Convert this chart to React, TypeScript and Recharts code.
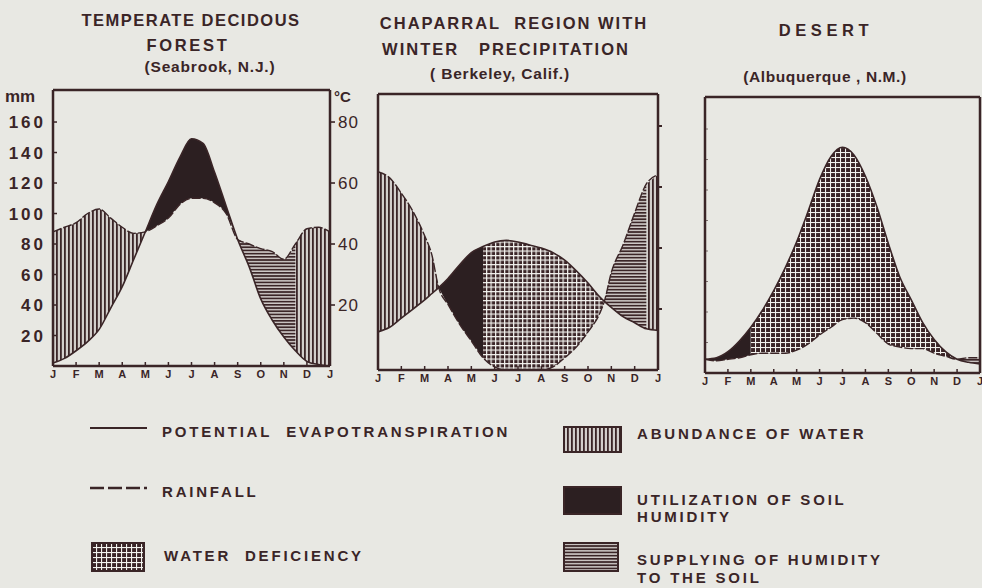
import React from 'react';
import { ComposedChart, Area, Line, XAxis, YAxis, ReferenceLine } from 'recharts';

const INK = '#3a2527';
const PAPER = '#e8e8e3';
const FONT = '"Liberation Sans", Arial, Helvetica, sans-serif';

const monthLabels = ['J', 'F', 'M', 'A', 'M', 'J', 'J', 'A', 'S', 'O', 'N', 'D', 'J'];
const monthTicks = [0, 1, 2, 3, 4, 5, 6, 7, 8, 9, 10, 11, 12];
const mmTicks = [20, 40, 60, 80, 100, 120, 140, 160];
const degTicks = [20, 40, 60, 80];

// Seabrook, N.J. (mm, x = months from January)
const forestX = [0, 0.5, 1, 1.5, 2, 2.5, 3, 3.5, 4, 4.5, 5, 5.5, 6, 6.5, 7, 7.5, 8, 8.5, 9, 9.5, 10, 10.5, 11, 11.5, 12];
const forestPet = [2, 5, 10, 16, 24, 38, 52, 70, 88, 106, 121, 137, 149, 146, 127, 105, 83, 65, 44, 30, 19, 10, 3, 1, 0];
const forestRain = [88, 91, 94, 100, 103, 97, 91, 87, 88, 92, 97, 106, 110, 110, 107, 100, 83, 80, 77, 75, 70, 80, 90, 91, 88];
const forestZones = [
  { kind: 'abundance', from: 0, to: 4 },
  { kind: 'utilization', from: 4, to: 8 },
  { kind: 'supply', from: 8, to: 10.5 },
  { kind: 'abundance', from: 10.5, to: 12 },
];

// Berkeley, Calif.
const chapX = [0, 0.5, 1, 1.5, 2, 2.3, 2.6, 3, 3.5, 4, 4.5, 5, 5.5, 6, 6.5, 7, 7.5, 8, 8.5, 9, 9.5, 9.7, 10, 10.5, 11, 11.5, 12];
const chapPet = [25, 28, 34, 40, 46, 50, 54, 60, 69, 77, 81, 84, 85, 84, 82, 80, 77, 72, 65, 57, 48, 45, 41, 35, 31, 27, 26];
const chapRain = [130, 126, 116, 104, 88, 76, 54, 43, 30, 19, 8, 2, 0, 0, 0, 0, 2, 8, 15, 25, 37, 45, 64, 82, 103, 122, 128];
const chapZones = [
  { kind: 'abundance', from: 0, to: 2.6 },
  { kind: 'utilization', from: 2.6, to: 4.5 },
  { kind: 'deficiency', from: 4.5, to: 9.7 },
  { kind: 'supply', from: 9.7, to: 11.5 },
  { kind: 'abundance', from: 11.5, to: 12 },
];

// Albuquerque, N.M.
const desertX = [0, 0.5, 1, 1.5, 2, 2.5, 3, 3.5, 4, 4.5, 5, 5.5, 6, 6.5, 7, 7.5, 8, 8.5, 9, 9.5, 10, 10.5, 11, 11.5, 12];
const desertPet = [9, 10, 14, 21, 30, 41, 54, 69, 86, 106, 127, 142, 148, 143, 129, 109, 85, 63, 48, 33, 22, 14, 9, 7, 6];
const desertRain = [9, 8, 9, 10, 12, 13, 13, 13, 15, 19, 25, 30, 35, 36, 33, 26, 19, 17, 16, 16, 13, 11, 9, 10, 10];
const desertZones = [
  { kind: 'utilization', from: 0, to: 2 },
  { kind: 'deficiency', from: 2, to: 11 },
  { kind: 'supply', from: 11, to: 12 },
];

const zoneKinds = ['abundance', 'utilization', 'supply', 'deficiency'];

function buildRows(xs: number[], pet: number[], rain: number[], zones: { kind: string; from: number; to: number }[]) {
  return xs.map((x, i) => {
    const row: any = { x, pet: pet[i], rain: rain[i] };
    zones.forEach((z) => {
      if (x >= z.from && x <= z.to) row[z.kind] = [Math.min(pet[i], rain[i]), Math.max(pet[i], rain[i])];
    });
    return row;
  });
}

function Patterns({ id, grid, line }: { id: string; grid: number; line: number }) {
  return (
    <defs>
      <pattern id={`${id}-abundance`} width={4} height={4} patternUnits='userSpaceOnUse'>
        <rect width={4} height={4} fill='#d2cecb' />
        <rect width={1.8} height={4} fill={INK} />
      </pattern>
      <pattern id={`${id}-supply`} width={4} height={3.2} patternUnits='userSpaceOnUse'>
        <rect width={4} height={3.2} fill='#cfcac7' />
        <rect width={4} height={1.7} fill={INK} />
      </pattern>
      <pattern id={`${id}-deficiency`} width={grid} height={grid} patternUnits='userSpaceOnUse'>
        <rect width={grid} height={grid} fill={INK} />
        <rect width={grid} height={line} fill='#f3f3ef' />
        <rect width={line} height={grid} fill='#f3f3ef' />
      </pattern>
    </defs>
  );
}

function MonthTick({ x, y, payload }: any) {
  return (
    <g>
      <line x1={x} x2={x} y1={y} y2={y - 4} stroke={INK} strokeWidth={1.5} />
      <text x={x} y={y + 12} textAnchor='middle' fontSize={11} fontWeight={700} fill={INK} fontFamily={FONT}>
        {monthLabels[payload.value]}
      </text>
    </g>
  );
}

function MmTick({ x, y, payload }: any) {
  return (
    <g>
      <line x1={x} x2={x + 4} y1={y} y2={y} stroke={INK} strokeWidth={1.5} />
      <text x={x - 7} y={y + 6} textAnchor='end' fontSize={17} fontWeight={700} letterSpacing={3} fill={INK} fontFamily={FONT}>
        {payload.value}
      </text>
    </g>
  );
}

function InnerTick({ x, y }: any) {
  return <line x1={x} x2={x + 3} y1={y} y2={y} stroke={INK} strokeWidth={1} opacity={0.6} />;
}

function DegTick({ x, y, payload }: any) {
  return (
    <g>
      <line x1={x} x2={x + 5} y1={y} y2={y} stroke={INK} strokeWidth={1.6} />
      <text x={x + 8} y={y + 6} fontSize={17} letterSpacing={1} fill={INK} fontFamily={FONT}>
        {payload.value}
      </text>
    </g>
  );
}

function OuterTick({ x, y }: any) {
  return <line x1={x} x2={x + 4} y1={y} y2={y} stroke={INK} strokeWidth={2} />;
}

function ClimatePanel(props: any) {
  const { id, rows, left, top, width, leftWidth, rightWidth, leftTick, rightTick, grid, line } = props;
  return (
    <div style={{ position: 'absolute', left, top }}>
      <ComposedChart width={width} height={305} data={rows} margin={{ top: 10, right: 0, bottom: 0, left: 0 }}>
        <Patterns id={id} grid={grid} line={line} />
        <XAxis
          dataKey='x'
          type='number'
          domain={[0, 12]}
          ticks={monthTicks}
          interval={0}
          tickSize={0}
          tickMargin={0}
          tickLine={false}
          tick={MonthTick}
          height={19}
          axisLine={{ stroke: INK, strokeWidth: 2.5 }}
        />
        <YAxis
          yAxisId='mm'
          type='number'
          domain={[0, 181]}
          ticks={mmTicks}
          width={leftWidth}
          tickSize={0}
          tickMargin={0}
          tickLine={false}
          tick={leftTick}
          axisLine={{ stroke: INK, strokeWidth: 2.5 }}
        />
        <YAxis
          yAxisId='c'
          orientation='right'
          type='number'
          domain={[0, 90.5]}
          allowDataOverflow
          ticks={degTicks}
          width={rightWidth}
          tickSize={0}
          tickMargin={0}
          tickLine={false}
          tick={rightTick}
          axisLine={{ stroke: INK, strokeWidth: 2.5 }}
        />
        <ReferenceLine yAxisId='mm' y={181} stroke={INK} strokeWidth={2.5} />
        {zoneKinds.map((k) => (
          <Area
            key={k}
            yAxisId='mm'
            dataKey={k}
            type='monotone'
            fill={k === 'utilization' ? '#2c1f21' : `url(#${id}-${k})`}
            fillOpacity={1}
            stroke='none'
            connectNulls={false}
            dot={false}
            activeDot={false}
            isAnimationActive={false}
          />
        ))}
        <Line yAxisId='mm' dataKey='pet' type='monotone' stroke={INK} strokeWidth={1.6} dot={false} activeDot={false} isAnimationActive={false} />
        <Line yAxisId='mm' dataKey='rain' type='monotone' stroke={INK} strokeWidth={1.4} strokeDasharray='9 2' dot={false} activeDot={false} isAnimationActive={false} />
        {/* keeps the °C axis bound to a series so its ticks are drawn */}
        <Line yAxisId='c' dataKey='pet' stroke='transparent' strokeWidth={0} dot={false} activeDot={false} isAnimationActive={false} />
      </ComposedChart>
    </div>
  );
}

const textStyle: any = { position: 'absolute', color: INK, fontFamily: FONT, fontWeight: 700, whiteSpace: 'nowrap', lineHeight: 1 };

function Centered({ cx, cy, size, spacing, children }: any) {
  return (
    <div style={{ ...textStyle, left: cx - 200, width: 400, top: cy - size * 0.55, fontSize: size, letterSpacing: spacing, textAlign: 'center' }}>
      {children}
    </div>
  );
}

function LegendText({ x, cy, children }: any) {
  return <div style={{ ...textStyle, left: x, top: cy - 8, fontSize: 15, letterSpacing: 2.8 }}>{children}</div>;
}

function Swatch({ x, y, w, h, kind }: any) {
  return (
    <svg style={{ position: 'absolute', left: x, top: y }} width={w} height={h}>
      <Patterns id={`lg-${kind}`} grid={5} line={1.1} />
      <rect
        x={1}
        y={1}
        width={w - 2}
        height={h - 2}
        fill={kind === 'utilization' ? '#2c1f21' : `url(#lg-${kind}-${kind})`}
        stroke={INK}
        strokeWidth={2}
      />
    </svg>
  );
}

export default function App() {
  const forestRows = buildRows(forestX, forestPet, forestRain, forestZones);
  const chapRows = buildRows(chapX, chapPet, chapRain, chapZones);
  const desertRows = buildRows(desertX, desertPet, desertRain, desertZones);
  return (
    <div style={{ position: 'absolute', left: 0, top: 0, width: 982, height: 588, background: PAPER, overflow: 'hidden', fontFamily: FONT }}>
      <Centered cx={191} cy={21} size={16.5} spacing={1.5}>TEMPERATE DECIDOUS</Centered>
      <Centered cx={188} cy={46} size={16.5} spacing={2.7}>FOREST</Centered>
      <Centered cx={210} cy={68} size={15.5} spacing={0.8}>(Seabrook, N.J.)</Centered>

      <Centered cx={514} cy={24} size={16.5} spacing={2}>CHAPARRAL&nbsp;&nbsp;REGION WITH</Centered>
      <Centered cx={506} cy={50} size={16.5} spacing={2}>WINTER&nbsp;&nbsp;&nbsp;PRECIPITATION</Centered>
      <Centered cx={500} cy={75} size={15.5} spacing={0.8}>( Berkeley, Calif.)</Centered>

      <Centered cx={826} cy={31} size={16.5} spacing={4.6}>DESERT</Centered>
      <Centered cx={825} cy={78} size={15.5} spacing={0.6}>(Albuquerque , N.M.)</Centered>

      <div style={{ ...textStyle, left: 5, top: 88, fontSize: 17 }}>mm</div>
      <div style={{ ...textStyle, left: 334, top: 89, fontSize: 15 }}>°C</div>

      <ClimatePanel
        id='p1'
        rows={forestRows}
        left={0}
        top={80}
        width={370}
        leftWidth={53}
        rightWidth={40}
        leftTick={MmTick}
        rightTick={DegTick}
        grid={5}
        line={1.1}
      />
      <ClimatePanel
        id='p2'
        rows={chapRows}
        left={360}
        top={84}
        width={310}
        leftWidth={18}
        rightWidth={12}
        leftTick={false}
        rightTick={OuterTick}
        grid={4.5}
        line={1.2}
      />
      <ClimatePanel
        id='p3'
        rows={desertRows}
        left={690}
        top={87}
        width={292}
        leftWidth={15}
        rightWidth={2}
        leftTick={InnerTick}
        rightTick={false}
        grid={5}
        line={1.05}
      />

      <svg style={{ position: 'absolute', left: 88, top: 420 }} width={62} height={75}>
        <line x1={2} x2={59} y1={8} y2={8} stroke={INK} strokeWidth={2.2} />
        <line x1={2} x2={59} y1={68} y2={68} stroke={INK} strokeWidth={2.6} strokeDasharray='14 4' />
      </svg>
      <LegendText x={162} cy={432}>POTENTIAL&nbsp;&nbsp;EVAPOTRANSPIRATION</LegendText>
      <LegendText x={162} cy={492}>RAINFALL</LegendText>
      <Swatch x={91} y={542} w={54} h={30} kind='deficiency' />
      <LegendText x={164} cy={556}>WATER&nbsp;&nbsp;DEFICIENCY</LegendText>

      <Swatch x={563} y={426} w={59} h={27} kind='abundance' />
      <LegendText x={637} cy={434}>ABUNDANCE OF WATER</LegendText>
      <Swatch x={563} y={486} w={59} h={29} kind='utilization' />
      <LegendText x={637} cy={500}>UTILIZATION OF SOIL</LegendText>
      <LegendText x={637} cy={517}>HUMIDITY</LegendText>
      <Swatch x={563} y={542} w={56} h={30} kind='supply' />
      <LegendText x={637} cy={560}>SUPPLYING OF HUMIDITY</LegendText>
      <LegendText x={637} cy={578}>TO THE SOIL</LegendText>
    </div>
  );
}
